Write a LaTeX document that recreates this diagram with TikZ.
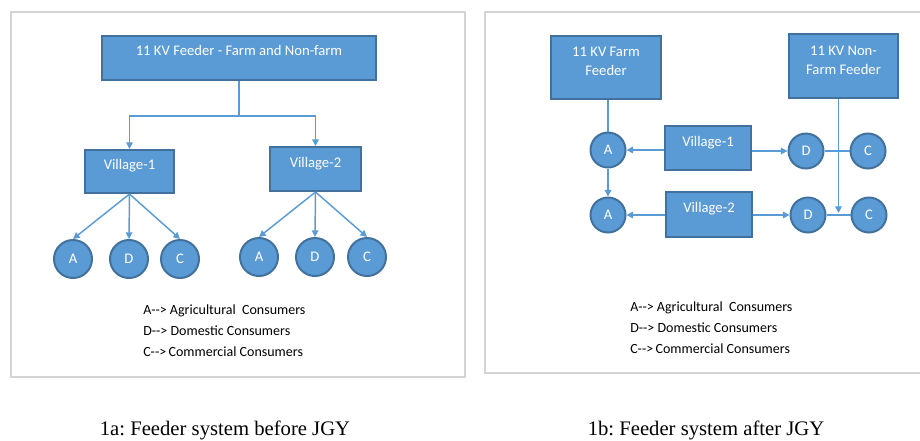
\documentclass[tikz,border=0pt]{standalone}
\usepackage{fontspec}
\setmainfont{Carlito}
\newfontfamily\capfont{Liberation Serif}
\usetikzlibrary{arrows.meta,calc}
\definecolor{boxfill}{HTML}{5B9BD5}
\definecolor{boxline}{HTML}{41719C}
\definecolor{framegray}{HTML}{D4D4D4}
\def\pxu{0.75pt}
\frenchspacing
\begin{document}
\begin{tikzpicture}[x=0.75pt,y=-0.75pt,
  bluebox/.style={rectangle,draw=boxline,fill=boxfill,line width=1.5pt,text=white,
    font=\fontsize{11pt}{14pt}\selectfont,align=center,inner sep=0pt},
  bigcirc/.style={circle,draw=boxline,fill=boxfill,line width=1.5pt,text=white,
    font=\fontsize{11pt}{12pt}\selectfont,minimum size=38*\pxu,inner sep=0pt},
  smallcirc/.style={bigcirc,minimum size=35*\pxu},
  conn/.style={draw=boxfill,line width=1.1pt},
  arr/.style={conn,-{Triangle[length=5pt,width=5pt]}},
  legend/.style={align=left,anchor=north west,inner sep=0pt,font=\fontsize{10.5pt}{15.5pt}\selectfont},
  caption/.style={font=\capfont\fontsize{15.5pt}{17pt}\selectfont,inner sep=0pt},
  frame/.style={draw=framegray,line width=1.2pt}]
\useasboundingbox (0,0) rectangle (920,440);
% frames
\draw[frame] (11,12) rectangle (465,377);
\draw[frame] (485,12) rectangle (930,373);

% ---------- left panel ----------
\node[bluebox,minimum width=274*\pxu,minimum height=44*\pxu,text depth=16*\pxu] (top) at (239,58) {11 KV Feeder - Farm and Non-farm};
\node[bluebox,minimum width=89*\pxu,minimum height=43*\pxu,text depth=14*\pxu] (lv1) at (129.5,171.5) {Village-1};
\node[bluebox,minimum width=91*\pxu,minimum height=44*\pxu,text depth=14*\pxu] (lv2) at (315.5,169) {Village-2};
\node[bigcirc] (la1) at (73,259) {A};
\node[bigcirc] (ld1) at (129,259) {D};
\node[bigcirc] (lc1) at (180,259) {C};
\node[bigcirc] (la2) at (259,257) {A};
\node[bigcirc] (ld2) at (315,257) {D};
\node[bigcirc] (lc2) at (367,257) {C};
\coordinate (split) at ($(top.south)+(0,35)$);
\draw[arr] (top.south) -- (split) -| (lv1.north);
\draw[arr] (split) -| (lv2.north);
\draw[arr] (lv1.south) -- (la1.north);
\draw[arr] (lv1.south) -- (ld1.north);
\draw[arr] (lv1.south) -- (lc1.north);
\draw[arr] (lv2.south) -- (la2.north);
\draw[arr] (lv2.south) -- (ld2.north);
\draw[arr] (lv2.south) -- (lc2.north);
\node[legend] (legl) at (143,305) {A-{}-{}> Agricultural\ \ Consumers\\D-{}-{}> Domestic Consumers\\C-{}-{}>\,Commercial Consumers};

% ---------- right panel ----------
\node[bluebox,minimum width=110*\pxu,minimum height=63*\pxu,text depth=12*\pxu] (farm) at (606,67.5) {11 KV Farm\\Feeder};
\node[bluebox,minimum width=109*\pxu,minimum height=64*\pxu,text depth=12*\pxu] (nonfarm) at (843.5,66) {11 KV Non-\\Farm Feeder};
\node[bluebox,minimum width=86*\pxu,minimum height=44*\pxu,text depth=14*\pxu] (rv1) at (708,148) {Village-1};
\node[bluebox,minimum width=86*\pxu,minimum height=45*\pxu,text depth=14*\pxu] (rv2) at (709,214.5) {Village-2};
\node[smallcirc] (ra1) at (608,150) {A};
\node[smallcirc] (ra2) at (608,215) {A};
\node[smallcirc] (rd1) at (806,151) {D};
\node[smallcirc] (rc1) at (868,151) {C};
\node[smallcirc] (rd2) at (808,215) {D};
\node[smallcirc] (rc2) at (869,215) {C};
\coordinate (join) at ($(rd2.east)!0.5!(rc2.west)$);
\draw[conn] (farm.south -| ra1) -- (ra1.north);
\draw[arr] (ra1.south) -- (ra2.north);
\draw[arr] (rv1.west |- ra1) -- (ra1.east);
\draw[arr] (rv1.east |- rd1) -- (rd1.west);
\draw[conn] (rd1.east) -- (rc1.west);
\draw[arr] (rv2.west |- ra2) -- (ra2.east);
\draw[arr] (rv2.east |- rd2) -- (rd2.west);
\draw[conn] (rd2.east) -- (rc2.west);
\draw[arr] (nonfarm.south -| join) -- ($(join)+(0,-2)$);
\node[legend] (legr) at (630,302) {A-{}-{}> Agricultural\ \ Consumers\\D-{}-{}> Domestic Consumers\\C-{}-{}>\,Commercial Consumers};

% captions
\node[caption] (capa) at (225,430) {1a: Feeder system before JGY};
\node[caption] (capb) at (706,430) {1b: Feeder system after JGY};
\end{tikzpicture}
\end{document}
